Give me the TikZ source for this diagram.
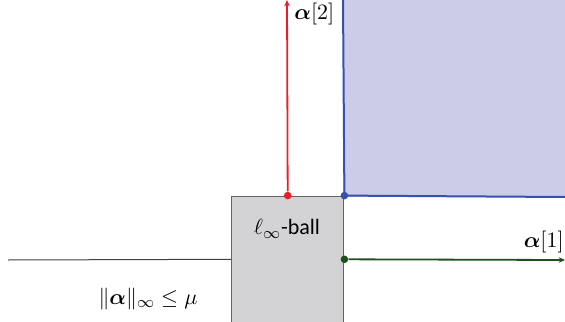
\documentclass[tikz,border=0pt]{standalone}
\usepackage{amsmath,amssymb}
\usepackage{fontspec}
\newfontfamily\ballfont{Carlito}
\usepackage{tikz}
\usetikzlibrary{arrows.meta,positioning,calc}

\definecolor{ballgray}{RGB}{211,211,213}
\definecolor{ballborder}{RGB}{100,100,100}
\definecolor{axred}{RGB}{235,30,40}
\definecolor{axblue}{RGB}{55,80,175}
\definecolor{regionfill}{RGB}{205,204,232}
\definecolor{axgreen}{RGB}{30,80,30}

\begin{document}
\begin{tikzpicture}[x=0.5pt, y=0.5pt,
  ball/.style={draw=ballborder, fill=ballgray, line width=0.7pt,
    minimum width=56pt, minimum height=63pt, inner sep=0pt},
  dot/.style={circle, inner sep=0pt, minimum size=3.8pt},
  axis/.style={-{Stealth[length=3.2pt,width=2.8pt]}, line width=0.9pt},
  lbl/.style={inner sep=1pt, font=\fontsize{11}{13}\selectfont}]
  \useasboundingbox (0,0) rectangle (565,321);
  % feasible region
  \fill[regionfill] (343,124) rectangle (565,321);
  \node[ball, anchor=south west] (box) at (231,-2) {};
  \node[lbl] (balltxt) at (287,92) {$\ell_\infty$\ballfont -ball};
  \node[dot, fill=axred] (rdot) at (box.north) {};
  \node[dot, fill=axblue] (bdot) at (box.north east) {};
  \node[dot, fill=axgreen] (gdot) at (box.east) {};
  \coordinate (ltip) at (8,61);
  \coordinate (gtip) at (565,61);
  \coordinate (rtip) at (287,321);
  \draw[axblue, line width=1pt] (343,321) -- (bdot.center) -- (565,124);
  \draw[line width=0.5pt, black!75] (ltip) -- (box.west);
  \draw[axis, axgreen] (gdot) -- (gtip);
  \draw[axis, axred] (rdot) -- (rtip);
  \node[lbl, anchor=south east] (a1) at (566,66) {$\boldsymbol{\alpha}[1]$};
  \node[lbl, anchor=north west] (a2) at (292,320) {$\boldsymbol{\alpha}[2]$};
  \node[lbl] (norm) at (148,22) {$\|\boldsymbol{\alpha}\|_\infty \leq \mu$};
\end{tikzpicture}
\end{document}
